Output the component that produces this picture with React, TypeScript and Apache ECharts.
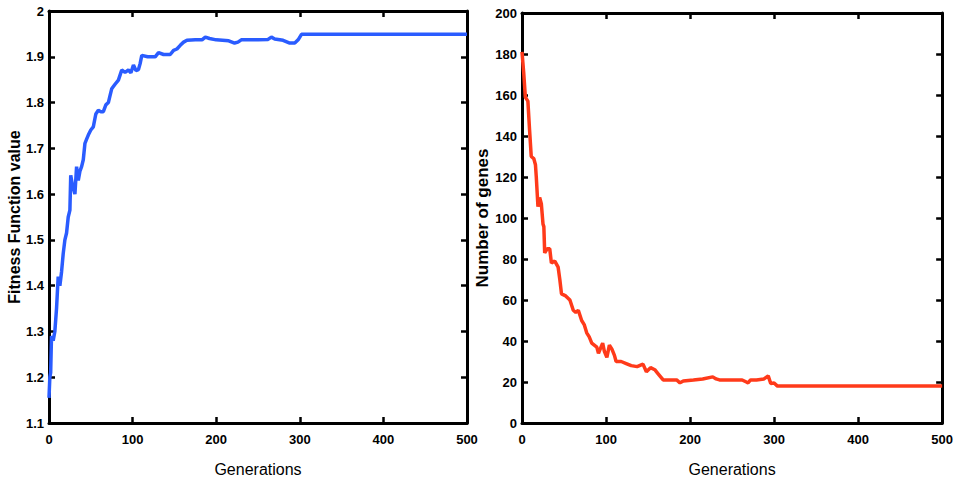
import React, { useEffect, useRef } from "react";
import * as echarts from "echarts";

const fitnessGen = [0, 1, 2, 3, 5, 7, 9, 11, 13, 15, 17, 19, 21, 23, 25, 26, 28, 31, 33, 35, 37, 39, 41, 43, 45, 47, 50, 53, 56, 59, 62, 65, 68, 71, 73, 75, 79, 83, 85, 87, 91, 95, 98, 101, 104, 107, 109, 111, 118, 127, 131, 137, 145, 149, 153, 157, 161, 165, 175, 183, 187, 192, 200, 215, 222, 226, 230, 250, 262, 266, 270, 280, 288, 294, 298, 302, 500];
const fitnessVal = [1.155, 1.2, 1.21, 1.29, 1.28, 1.3, 1.35, 1.42, 1.4, 1.43, 1.47, 1.5, 1.515, 1.55, 1.565, 1.641, 1.62, 1.6, 1.66, 1.63, 1.65, 1.66, 1.675, 1.711, 1.72, 1.729, 1.74, 1.747, 1.775, 1.783, 1.78, 1.78, 1.795, 1.8, 1.815, 1.83, 1.84, 1.849, 1.86, 1.871, 1.866, 1.871, 1.865, 1.882, 1.87, 1.872, 1.885, 1.903, 1.9, 1.9, 1.909, 1.905, 1.905, 1.914, 1.917, 1.925, 1.932, 1.936, 1.937, 1.937, 1.943, 1.94, 1.937, 1.935, 1.93, 1.932, 1.937, 1.937, 1.938, 1.943, 1.939, 1.936, 1.93, 1.93, 1.937, 1.949, 1.949];

const genesGen = [0, 1, 2, 4, 7, 9, 11, 14, 16, 17, 19, 21, 23, 25, 26, 27, 30, 33, 35, 39, 43, 45, 47, 52, 57, 61, 64, 67, 71, 74, 77, 80, 83, 86, 89, 91, 94, 96, 98, 101, 104, 107, 110, 112, 118, 124, 130, 137, 144, 148, 153, 158, 162, 168, 176, 184, 188, 192, 204, 215, 227, 231, 235, 250, 262, 267, 269, 272, 279, 288, 293, 296, 300, 304, 500];
const genesVal = [181, 176, 171, 159, 157, 143, 130, 129, 126, 120, 105.5, 110, 107, 97, 95.8, 83, 85, 85, 78, 79, 76, 70, 63, 62, 60, 55, 54, 55, 50, 48, 44, 42, 39, 38, 37, 34, 37, 39, 35, 32, 38, 36, 33, 30, 30, 29, 28, 27.5, 28.7, 25, 27, 26, 24, 21, 21, 21, 19.6, 20.5, 21, 21.5, 22.5, 21.5, 21, 21, 21, 20, 19.6, 21, 21, 21.5, 23, 19.3, 19.5, 18, 18];

const xTicks = [0, 100, 200, 300, 400, 500];

const zip = (a: number[], b: number[]) => a.map((v, i) => [v, b[i]]);

const labelStyle = {
  color: "#000",
  fontFamily: "Liberation Sans, Arial, sans-serif",
  fontSize: 13,
  fontWeight: "bold" as const,
};

export default function App() {
  const ref = useRef<HTMLDivElement>(null);
  useEffect(() => {
    if (!ref.current) return;
    const chart = echarts.init(ref.current, null, { renderer: "svg" });
    const axisLine = { show: true, onZero: false, lineStyle: { color: "#000", width: 3 } };
    const tick = { show: true, inside: true, length: 6, lineStyle: { color: "#000", width: 2.5 } };
    const xMain = (gi: number) => ({
      type: "value" as const,
      gridIndex: gi,
      position: "bottom" as const,
      min: xTicks[0],
      max: xTicks[xTicks.length - 1],
      interval: 100,
      axisLine,
      axisTick: tick,
      splitLine: { show: false },
      axisLabel: { ...labelStyle, margin: 10 },
      name: "Generations",
      nameLocation: "middle" as const,
      nameGap: 38,
      nameTextStyle: { color: "#000", fontFamily: "Liberation Sans, Arial, sans-serif", fontSize: 16 },
    });
    const xMirror = (gi: number) => ({
      type: "value" as const,
      gridIndex: gi,
      position: "top" as const,
      min: 0,
      max: 500,
      interval: 100,
      axisLine,
      axisTick: tick,
      splitLine: { show: false },
      axisLabel: { show: false },
    });
    const yMirror = (gi: number, min: number, max: number, interval: number) => ({
      type: "value" as const,
      gridIndex: gi,
      position: "right" as const,
      min,
      max,
      interval,
      axisLine,
      axisTick: tick,
      splitLine: { show: false },
      axisLabel: { show: false },
    });
    chart.setOption({
      animation: false,
      backgroundColor: "#fff",
      grid: [
        { left: 49, top: 11, width: 418, height: 412 },
        { left: 522, top: 13, width: 421, height: 410 },
      ],
      xAxis: [xMain(0), xMirror(0), xMain(1), xMirror(1)],
      yAxis: [
        {
          type: "value",
          gridIndex: 0,
          position: "left",
          min: 1.1,
          max: 2,
          interval: 0.1,
          axisLine,
          axisTick: tick,
          splitLine: { show: false },
          axisLabel: { ...labelStyle, margin: 5, formatter: (v: number) => String(Math.round(v * 10) / 10) },
          name: "Fitness Function value",
          nameLocation: "middle",
          nameGap: 25,
          nameTextStyle: { color: "#000", fontFamily: "Liberation Sans, Arial, sans-serif", fontSize: 16, fontWeight: "bold" },
        },
        yMirror(0, 1.1, 2, 0.1),
        {
          type: "value",
          gridIndex: 1,
          position: "left",
          min: 0,
          max: 200,
          interval: 20,
          axisLine,
          axisTick: tick,
          splitLine: { show: false },
          axisLabel: { ...labelStyle, margin: 5 },
          name: "Number of genes",
          nameLocation: "middle",
          nameGap: 25,
          nameTextStyle: { color: "#000", fontFamily: "Liberation Sans, Arial, sans-serif", fontSize: 17, fontWeight: "bold" },
        },
        yMirror(1, 0, 200, 20),
      ],
      series: [
        {
          type: "line",
          xAxisIndex: 0,
          yAxisIndex: 0,
          showSymbol: false,
          data: zip(fitnessGen, fitnessVal),
          lineStyle: { color: "#2a5cff", width: 3.5 },
          itemStyle: { color: "#2a5cff" },
        },
        {
          type: "line",
          xAxisIndex: 2,
          yAxisIndex: 2,
          showSymbol: false,
          data: zip(genesGen, genesVal),
          lineStyle: { color: "#ff3a1a", width: 3.5 },
          itemStyle: { color: "#ff3a1a" },
        },
      ],
    });
    return () => chart.dispose();
  }, []);
  return (
    <div
      ref={ref}
      style={{ position: "fixed", left: 0, top: 0, width: 956, height: 483, background: "#fff" }}
    />
  );
}
